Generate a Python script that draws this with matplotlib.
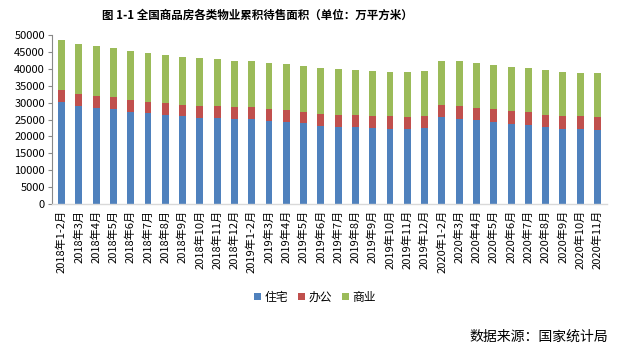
import matplotlib
matplotlib.use("Agg")
import matplotlib.pyplot as plt
import numpy as np

plt.rcParams['font.family'] = ['Noto Sans CJK SC', 'DejaVu Sans']

categories = (
    ["2018年1-2月"] + [f"2018年{m}月" for m in range(3, 13)] +
    ["2019年1-2月"] + [f"2019年{m}月" for m in range(3, 13)] +
    ["2020年1-2月"] + [f"2020年{m}月" for m in range(3, 12)]
)

# cumulative tops (住宅, 住宅+办公, total)
resid = [30200, 29000, 28400, 28100, 27300, 26900, 26300, 26000, 25500, 25400, 25100,
         25100, 24600, 24300, 23900, 23100, 22800, 22800, 22500, 22200, 22200,
         22500, 25700, 25100, 24900, 24400, 23800, 23400, 22800, 22200, 22200, 22000]
office_top = [33700, 32500, 32000, 31700, 30800, 30200, 29900, 29300, 29000, 29000, 28700,
              28700, 28100, 27800, 27200, 26600, 26300, 26300, 26000, 26000, 25700,
              26000, 29300, 29000, 28400, 28100, 27500, 27200, 26300, 26000, 26000, 25700]
total = [48500, 47300, 46700, 46200, 45300, 44700, 44200, 43500, 43200, 42900, 42300,
         42300, 41700, 41400, 40800, 40200, 39900, 39600, 39300, 39100, 39100,
         39300, 42300, 42300, 41700, 41100, 40500, 40200, 39600, 39100, 38800, 38800]

office = [o - r for o, r in zip(office_top, resid)]
commercial = [t - o for t, o in zip(total, office_top)]

series_names = ["住宅", "办公", "商业"]
colors = ["#4F81BD", "#C0504D", "#9BBB59"]

fig = plt.figure(figsize=(6.21, 3.52), dpi=100)
ax = fig.add_axes([52/621, 1 - 204/352, (607 - 52)/621, (204 - 35)/352])

x = np.arange(len(categories))
w = 0.4
ax.bar(x, resid, w, color=colors[0], label=series_names[0])
ax.bar(x, office, w, bottom=resid, color=colors[1], label=series_names[1])
ax.bar(x, commercial, w, bottom=office_top, color=colors[2], label=series_names[2])

ax.set_xlim(-0.55, len(categories) - 0.45)
ax.set_ylim(0, 50000)
ax.set_yticks(np.arange(0, 50001, 5000))
ax.tick_params(axis='y', labelsize=8, direction='out', length=3, width=0.8, color='#888888', pad=2)
ax.set_xticks(x)
ax.set_xticklabels(categories, rotation=90, fontsize=8, va='top')
ax.tick_params(axis='x', length=0, pad=4)

for s in ['top', 'right']:
    ax.spines[s].set_visible(False)
ax.spines['left'].set_color('#888888')
ax.spines['bottom'].set_color('#D9D9D9')
ax.spines['bottom'].set_linewidth(1.0)

fig.text(257/621, 1 - 15/352, "图 1-1 全国商品房各类物业累积待售面积（单位：万平方米）",
         ha='center', va='center', fontsize=8.3, fontweight='bold')

leg = fig.legend(loc='center', bbox_to_anchor=(315/621, 1 - 297/352), ncol=3, frameon=False,
                 fontsize=8.5, handlelength=0.6, handleheight=0.6, handletextpad=0.3,
                 columnspacing=0.8)

fig.text(608/621, 1 - 337/352, "数据来源：国家统计局", ha='right', va='center', fontsize=10)

fig.savefig("out.png", dpi=100)
